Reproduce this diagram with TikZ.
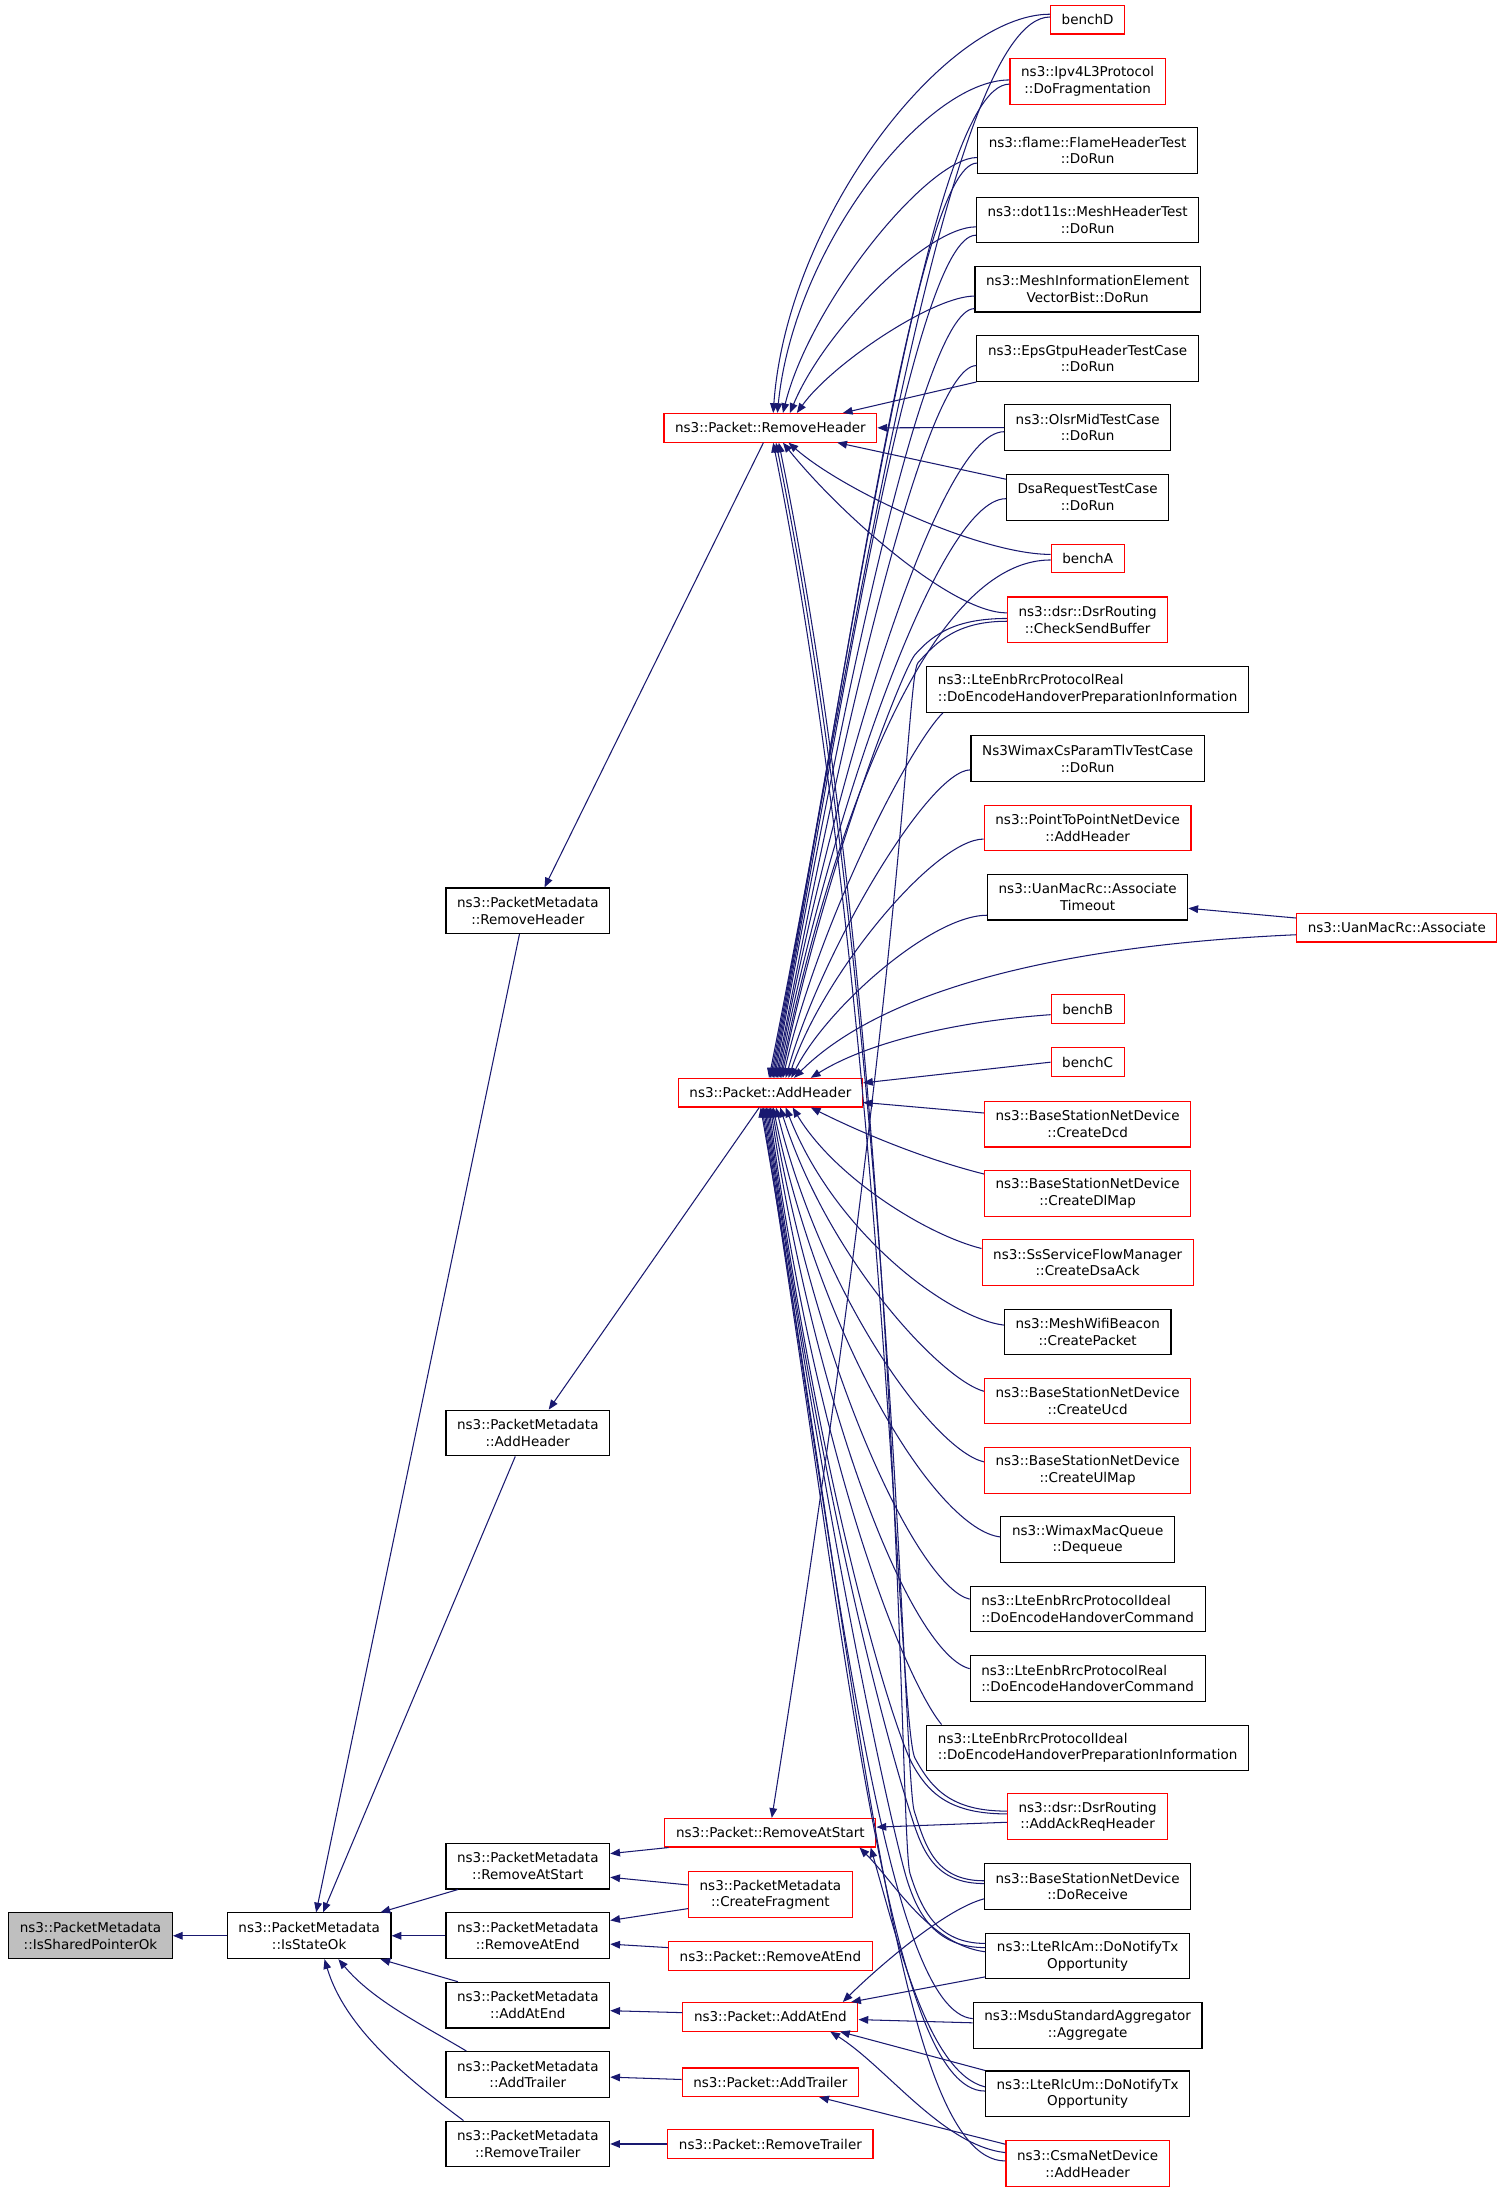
\documentclass[tikz,border=0pt]{standalone}
\usepackage{fontspec}
\setmainfont{DejaVu Sans}
\usetikzlibrary{arrows.meta}
\definecolor{callblue}{HTML}{191970}
\definecolor{trunkred}{HTML}{FF0000}
\definecolor{rootgray}{HTML}{BFBFBF}
\tikzset{
  fn/.style={draw=black, line width=0.8pt, fill=white, inner xsep=8pt, inner ysep=2pt, minimum height=20.5pt, align=center, font=\fontsize{9.7}{12}\selectfont},
  fnred/.style={fn, draw=trunkred},
  fnroot/.style={fn, fill=rootgray},
  tall/.style={minimum height=32.8pt},
  lft/.style={align=left},
  call/.style={-{Triangle[length=7pt,width=5.5pt]}, draw=callblue, line width=0.75pt}
}

\begin{document}
\begin{tikzpicture}[x=1pt, y=-1pt]
  \fill[white] (0,0) rectangle (1080,1574);

  % callers, right column
  \node[fnred] (benchD) at (781,14.2) {benchD};
  \node[fnred, tall] (dofrag) at (781,58.4) {ns3::Ipv4L3Protocol\\::DoFragmentation};
  \node[fn, tall] (flame) at (781,108.1) {ns3::flame::FlameHeaderTest\\::DoRun};
  \node[fn, tall] (dot11s) at (781,157.9) {ns3::dot11s::MeshHeaderTest\\::DoRun};
  \node[fn, tall] (meshie) at (781,207.6) {ns3::MeshInformationElement\\VectorBist::DoRun};
  \node[fn, tall] (epsgtpu) at (781,257.5) {ns3::EpsGtpuHeaderTestCase\\::DoRun};
  \node[fn, tall] (olsrmid) at (781,307) {ns3::OlsrMidTestCase\\::DoRun};
  \node[fn, tall] (dsareq) at (781,357.1) {DsaRequestTestCase\\::DoRun};
  \node[fnred] (benchA) at (781,401.1) {benchA};
  \node[fnred, tall] (checksend) at (781,445.1) {ns3::dsr::DsrRouting\\::CheckSendBuffer};
  \node[fn, tall, lft] (realhpi) at (781,495) {ns3::LteEnbRrcProtocolReal\\::DoEncodeHandoverPreparationInformation};
  \node[fn, tall] (wimaxcs) at (781,544.8) {Ns3WimaxCsParamTlvTestCase\\::DoRun};
  \node[fnred, tall] (p2p) at (781,594.5) {ns3::PointToPointNetDevice\\::AddHeader};
  \node[fn, tall] (assoctimeout) at (781,644.2) {ns3::UanMacRc::Associate\\Timeout};
  \node[fnred] (associate) at (1003,666.2) {ns3::UanMacRc::Associate};
  \node[fnred] (benchB) at (781,724.6) {benchB};
  \node[fnred] (benchC) at (781,762.7) {benchC};
  \node[fnred, tall] (createdcd) at (781,807.2) {ns3::BaseStationNetDevice\\::CreateDcd};
  \node[fnred, tall] (createdlmap) at (781,857) {ns3::BaseStationNetDevice\\::CreateDlMap};
  \node[fnred, tall] (createdsaack) at (781,906.5) {ns3::SsServiceFlowManager\\::CreateDsaAck};
  \node[fn, tall] (meshbeacon) at (781,956.5) {ns3::MeshWifiBeacon\\::CreatePacket};
  \node[fnred, tall] (createucd) at (781,1006) {ns3::BaseStationNetDevice\\::CreateUcd};
  \node[fnred, tall] (createulmap) at (781,1055.7) {ns3::BaseStationNetDevice\\::CreateUlMap};
  \node[fn, tall] (dequeue) at (781,1105.6) {ns3::WimaxMacQueue\\::Dequeue};
  \node[fn, tall, lft] (idealhc) at (781,1155.3) {ns3::LteEnbRrcProtocolIdeal\\::DoEncodeHandoverCommand};
  \node[fn, tall, lft] (realhc) at (781,1205.2) {ns3::LteEnbRrcProtocolReal\\::DoEncodeHandoverCommand};
  \node[fn, tall, lft] (idealhpi) at (781,1255.1) {ns3::LteEnbRrcProtocolIdeal\\::DoEncodeHandoverPreparationInformation};
  \node[fnred, tall] (addackreq) at (781,1304.5) {ns3::dsr::DsrRouting\\::AddAckReqHeader};
  \node[fn, tall] (doreceive) at (781,1354.5) {ns3::BaseStationNetDevice\\::DoReceive};
  \node[fn, tall] (rlcam) at (781,1404.5) {ns3::LteRlcAm::DoNotifyTx\\Opportunity};
  \node[fn, tall] (msdu) at (781,1454.5) {ns3::MsduStandardAggregator\\::Aggregate};
  \node[fn, tall] (rlcum) at (781,1503.5) {ns3::LteRlcUm::DoNotifyTx\\Opportunity};
  \node[fnred, tall] (csma) at (781,1553.7) {ns3::CsmaNetDevice\\::AddHeader};

  % Packet column
  \node[fnred] (prh) at (553.2,307.2) {ns3::Packet::RemoveHeader};
  \node[fnred] (pah) at (553.2,784.6) {ns3::Packet::AddHeader};
  \node[fnred] (pras) at (553.2,1316) {ns3::Packet::RemoveAtStart};
  \node[fnred, tall] (pcf) at (553.2,1360.5) {ns3::PacketMetadata\\::CreateFragment};
  \node[fnred] (prae) at (553.2,1404.5) {ns3::Packet::RemoveAtEnd};
  \node[fnred] (paae) at (553.2,1448.2) {ns3::Packet::AddAtEnd};
  \node[fnred] (pat) at (553.2,1495.2) {ns3::Packet::AddTrailer};
  \node[fnred] (prt) at (553.2,1539.5) {ns3::Packet::RemoveTrailer};

  % PacketMetadata column
  \node[fn, tall] (pmrh) at (379,654) {ns3::PacketMetadata\\::RemoveHeader};
  \node[fn, tall] (pmah) at (379,1029) {ns3::PacketMetadata\\::AddHeader};
  \node[fn, tall] (pmras) at (379,1340) {ns3::PacketMetadata\\::RemoveAtStart};
  \node[fn, tall] (pmrae) at (379,1390) {ns3::PacketMetadata\\::RemoveAtEnd};
  \node[fn, tall] (pmaae) at (379,1439.8) {ns3::PacketMetadata\\::AddAtEnd};
  \node[fn, tall] (pmat) at (379,1489.5) {ns3::PacketMetadata\\::AddTrailer};
  \node[fn, tall] (pmrt) at (379,1539.5) {ns3::PacketMetadata\\::RemoveTrailer};
  \node[fn, tall] (iso) at (222,1390) {ns3::PacketMetadata\\::IsStateOk};
  \node[fnroot, tall] (isp) at (65,1390) {ns3::PacketMetadata\\::IsSharedPointerOk};

  % into Packet::RemoveHeader
  \draw[call] ([yshift=4pt]benchD.west) .. controls +(-75,0) and +(10,-140) .. ([xshift=2pt]prh.north);
  \draw[call] ([yshift=1pt]dofrag.west) .. controls +(-60,0) and +(12,-120) .. ([xshift=5pt]prh.north);
  \draw[call] ([yshift=-5pt]flame.west) .. controls +(-35,0) and +(20,-80) .. ([xshift=9pt]prh.north);
  \draw[call] ([yshift=-5pt]dot11s.west) .. controls +(-35,0) and +(25,-60) .. ([xshift=14pt]prh.north);
  \draw[call] ([yshift=-5pt]meshie.west) .. controls +(-30,0) and +(25,-35) .. ([xshift=19pt]prh.north);
  \draw[call] (epsgtpu.south west) -- ([xshift=52pt]prh.north);
  \draw[call] (olsrmid.west) -- (prh.east);
  \draw[call] ([yshift=13pt]dsareq.west) -- ([xshift=48pt]prh.south);
  \draw[call] ([yshift=3pt]benchA.west) .. controls +(-50,0) and +(40,35) .. ([xshift=13pt]prh.south);
  \draw[call] ([yshift=5pt]checksend.west) .. controls +(-40,0) and +(40,50) .. ([xshift=9pt]prh.south);
  \draw[call] ([yshift=4pt]addackreq.west) .. controls +(-40,0) and +(12,22) .. ++(-66,-38)
    .. controls +(-12,-22) and +(80,400) .. ([xshift=2pt]prh.south);
  \draw[call] ([yshift=4pt]doreceive.west) .. controls +(-35,0) and +(8,25) .. ++(-50,-50)
    .. controls +(-8,-25) and +(85,420) .. ([xshift=4pt]prh.south);
  \draw[call] ([yshift=9pt]rlcam.west) .. controls +(-35,0) and +(8,25) .. ++(-54,-50)
    .. controls +(-8,-25) and +(90,440) .. ([xshift=6pt]prh.south);

  % into Packet::AddHeader, from above
  \draw[call] ([yshift=2pt]benchD.west) .. controls +(-75,0) and +(60,-300) .. ([xshift=-1pt]pah.north);
  \draw[call] ([yshift=-2pt]dofrag.west) .. controls +(-60,0) and +(55,-280) .. (pah.north);
  \draw[call] ([yshift=-9pt]flame.west) .. controls +(-45,0) and +(50,-260) .. ([xshift=1pt]pah.north);
  \draw[call] ([yshift=-11pt]dot11s.west) .. controls +(-45,0) and +(45,-240) .. ([xshift=2pt]pah.north);
  \draw[call] ([yshift=-14pt]meshie.west) .. controls +(-40,0) and +(40,-220) .. ([xshift=3pt]pah.north);
  \draw[call] ([yshift=-5pt]epsgtpu.west) .. controls +(-40,0) and +(38,-200) .. ([xshift=4pt]pah.north);
  \draw[call] ([yshift=-3pt]olsrmid.west) .. controls +(-50,0) and +(35,-190) .. ([xshift=5pt]pah.north);
  \draw[call] ([yshift=-1pt]dsareq.west) .. controls +(-50,0) and +(32,-170) .. ([xshift=6pt]pah.north);
  \draw[call] ([yshift=-1pt]benchA.west) .. controls +(-95,0) and +(30,-150) .. ([xshift=7pt]pah.north);
  \draw[call] ([yshift=1pt]checksend.west) .. controls +(-35,0) and +(14,-16) .. ++(-66,26)
    .. controls +(-10,12) and +(28,-140) .. ([xshift=8pt]pah.north);
  \draw[call] ([xshift=12pt]realhpi.south west) .. controls +(-25,25) and +(25,-110) .. ([xshift=9pt]pah.north);
  \draw[call] ([yshift=-8pt]wimaxcs.west) .. controls +(-30,0) and +(25,-90) .. ([xshift=11pt]pah.north);
  \draw[call] ([yshift=-8pt]p2p.west) .. controls +(-35,0) and +(25,-75) .. ([xshift=13pt]pah.north);
  \draw[call] ([yshift=-13pt]assoctimeout.west) .. controls +(-40,0) and +(25,-50) .. ([xshift=15pt]pah.north);
  \draw[call] ([yshift=-5pt]associate.west) .. controls +(-180,8) and +(60,-60) .. ([xshift=17pt]pah.north);
  \draw[call] ([yshift=-4pt]benchB.west) .. controls +(-70,5) and +(40,-25) .. ([xshift=29pt]pah.north);
  \draw[call] (benchC.west) -- ([yshift=7pt]pah.east);
  \draw[call] ([yshift=8pt]createdcd.west) -- ([yshift=-7pt]pah.east);

  % into Packet::AddHeader, from below
  \draw[call] ([yshift=14pt]createdlmap.west) .. controls +(-40,-10) and +(40,20) .. ([xshift=29pt]pah.south);
  \draw[call] ([yshift=10pt]createdsaack.west) .. controls +(-40,-10) and +(30,50) .. ([xshift=16pt]pah.south);
  \draw[call] ([yshift=5pt]meshbeacon.west) .. controls +(-40,-5) and +(35,90) .. ([xshift=11pt]pah.south);
  \draw[call] ([yshift=7pt]createucd.west) .. controls +(-30,-8) and +(35,110) .. ([xshift=7pt]pah.south);
  \draw[call] ([yshift=6pt]createulmap.west) .. controls +(-35,-8) and +(35,140) .. ([xshift=4pt]pah.south);
  \draw[call] ([yshift=2pt]dequeue.west) .. controls +(-45,-5) and +(35,170) .. ([xshift=2pt]pah.south);
  \draw[call] ([yshift=7pt]idealhc.west) .. controls +(-35,-8) and +(35,200) .. ([xshift=1pt]pah.south);
  \draw[call] ([yshift=7pt]realhc.west) .. controls +(-40,-10) and +(35,230) .. (pah.south);
  \draw[call] ([xshift=11pt]idealhpi.north west) .. controls +(-25,-30) and +(35,260) .. ([xshift=-1pt]pah.south);
  \draw[call] ([yshift=2pt]addackreq.west) .. controls +(-40,0) and +(12,22) .. ++(-68,-36)
    .. controls +(-12,-22) and +(40,290) .. ([xshift=-2pt]pah.south);
  \draw[call] ([yshift=2pt]doreceive.west) .. controls +(-35,0) and +(8,25) .. ++(-52,-48)
    .. controls +(-8,-25) and +(45,320) .. ([xshift=-3pt]pah.south);
  \draw[call] ([yshift=6pt]rlcam.west) .. controls +(-35,0) and +(8,25) .. ++(-56,-48)
    .. controls +(-8,-25) and +(50,340) .. ([xshift=-4pt]pah.south);
  \draw[call] ([yshift=5pt]msdu.west) .. controls +(-60,-5) and +(55,360) .. ([xshift=-5pt]pah.south);
  \draw[call] ([yshift=2pt]rlcum.west) .. controls +(-70,0) and +(60,380) .. ([xshift=-6pt]pah.south);
  \draw[call] ([yshift=2pt]csma.west) .. controls +(-80,0) and +(70,400) .. ([xshift=-7pt]pah.south);

  % into Packet::RemoveAtStart, AddAtEnd, AddTrailer
  \draw[call] ([yshift=-1pt]checksend.west) .. controls +(-35,0) and +(14,-16) .. ++(-64,30)
    .. controls +(-8,12) and +(96,-606) .. ([xshift=1pt]pras.north);
  \draw[call] ([yshift=-4pt]addackreq.west) -- ([yshift=4pt]pras.east);
  \draw[call] ([yshift=3pt]rlcam.west) .. controls +(-40,-5) and +(25,25) .. ([xshift=64pt]pras.south);
  \draw[call] ([yshift=5pt]rlcum.west) .. controls +(-40,-10) and +(20,70) .. ([xshift=72pt]pras.south);
  \draw[call] ([yshift=-9pt]doreceive.west) .. controls +(-30,8) and +(20,-20) .. ([xshift=52pt]paae.north);
  \draw[call] ([yshift=-15pt]rlcam.west) -- ([xshift=58pt]paae.north);
  \draw[call] ([yshift=2pt]msdu.west) -- ([yshift=-2pt]paae.east);
  \draw[call] (rlcum.north west) -- ([xshift=50pt]paae.south);
  \draw[call] ([yshift=8pt]csma.west) .. controls +(-45,-5) and +(40,25) .. ([xshift=43pt]paae.south);
  \draw[call] ([yshift=14pt]csma.west) -- ([xshift=35pt]pat.south);
  \draw[call] ([yshift=7pt]associate.west) -- ([yshift=-8pt]assoctimeout.east);

  % Packet -> PacketMetadata
  \draw[call] ([xshift=-5pt]prh.south) -- ([xshift=12pt]pmrh.north);
  \draw[call] ([xshift=-8pt]pah.south) -- ([xshift=15pt]pmah.north);
  \draw[call] ([xshift=3pt]pras.south west) -- ([yshift=9pt]pmras.east);
  \draw[call] ([yshift=7pt]pcf.west) -- ([yshift=-8pt]pmras.east);
  \draw[call] ([yshift=-10pt]pcf.west) -- ([yshift=11pt]pmrae.east);
  \draw[call] ([yshift=6pt]prae.west) -- ([yshift=-6pt]pmrae.east);
  \draw[call] ([yshift=3pt]paae.west) -- ([yshift=-4pt]pmaae.east);
  \draw[call] ([yshift=2pt]pat.west) -- ([yshift=-2pt]pmat.east);
  \draw[call] (prt.west) -- (pmrt.east);

  % PacketMetadata -> IsStateOk -> IsSharedPointerOk
  \draw[call] ([xshift=-6pt]pmrh.south) -- ([xshift=5pt]iso.north);
  \draw[call] ([xshift=-9pt]pmah.south) -- ([xshift=10pt]iso.north);
  \draw[call] ([xshift=9pt]pmras.south west) -- ([xshift=-8pt]iso.north east);
  \draw[call] (pmrae.west) -- (iso.east);
  \draw[call] ([xshift=9pt]pmaae.north west) -- ([xshift=-8pt]iso.south east);
  \draw[call] ([xshift=15pt]pmat.north west) .. controls +(-30,-18) and +(25,30) .. ([xshift=21pt]iso.south);
  \draw[call] ([xshift=13pt]pmrt.north west) .. controls +(-40,-30) and +(15,50) .. ([xshift=11pt]iso.south);
  \draw[call] (iso.west) -- (isp.east);
\end{tikzpicture}
\end{document}
